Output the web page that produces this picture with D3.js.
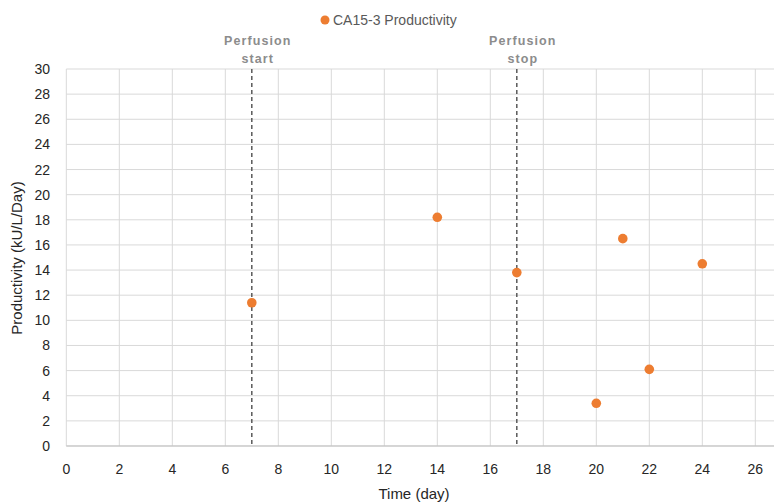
<!DOCTYPE html>
<html>
<head>
<meta charset="utf-8">
<script src="https://cdn.jsdelivr.net/npm/d3@7"></script>
<style>
  body { margin: 0; background: #fff; font-family: "Liberation Sans", Arial, sans-serif; }
</style>
</head>
<body>
<script>
// data
var days = [7, 14, 17, 20, 21, 22, 24];
var productivity = [11.4, 18.2, 13.8, 3.4, 16.5, 6.1, 14.5];
var seriesName = "CA15-3 Productivity";
var xTicks = [0, 2, 4, 6, 8, 10, 12, 14, 16, 18, 20, 22, 24, 26];
var yTicks = [0, 2, 4, 6, 8, 10, 12, 14, 16, 18, 20, 22, 24, 26, 28, 30];
var markerDays = [7, 17];
var markerLabels = [["Perfusion", "start"], ["Perfusion", "stop"]];

var W = 774, H = 502;
var svg = d3.select("body").append("svg")
    .attr("width", W)
    .attr("height", H);

// set the ranges (right edge of plot runs past the picture)
var x = d3.scaleLinear().domain([0, 28]).range([66.3, 808.3]);
var y = d3.scaleLinear().domain([0, 30]).range([446, 69]);

// grid
svg.append("g").selectAll("line")
    .data(yTicks).enter().append("line")
    .attr("x1", x(0)).attr("x2", W)
    .attr("y1", function (d) { return y(d); })
    .attr("y2", function (d) { return y(d); })
    .attr("stroke", "#d9d9d9").attr("stroke-width", 1);

svg.append("g").selectAll("line")
    .data(xTicks).enter().append("line")
    .attr("x1", function (d) { return x(d); })
    .attr("x2", function (d) { return x(d); })
    .attr("y1", y(30)).attr("y2", y(0))
    .attr("stroke", "#d9d9d9").attr("stroke-width", 1);

// x axis line
svg.append("line")
    .attr("x1", x(0)).attr("x2", W)
    .attr("y1", y(0)).attr("y2", y(0))
    .attr("stroke", "#bfbfbf").attr("stroke-width", 1);

// tick labels
svg.append("g").selectAll("text")
    .data(xTicks).enter().append("text")
    .attr("x", function (d) { return x(d); })
    .attr("y", 474)
    .attr("text-anchor", "middle")
    .attr("font-size", "14px")
    .attr("fill", "#262626")
    .text(function (d) { return d; });

svg.append("g").selectAll("text")
    .data(yTicks).enter().append("text")
    .attr("x", 50)
    .attr("y", function (d) { return y(d) + 5; })
    .attr("text-anchor", "end")
    .attr("font-size", "14px")
    .attr("fill", "#262626")
    .text(function (d) { return d; });

// axis titles
svg.append("text")
    .attr("x", 414).attr("y", 499)
    .attr("text-anchor", "middle")
    .attr("font-size", "15px")
    .attr("fill", "#262626")
    .text("Time (day)");

svg.append("text")
    .attr("transform", "translate(22,258) rotate(-90)")
    .attr("text-anchor", "middle")
    .attr("font-size", "15px")
    .attr("fill", "#262626")
    .text("Productivity (kU/L/Day)");

// perfusion markers
svg.append("g").selectAll("line")
    .data(markerDays).enter().append("line")
    .attr("x1", function (d) { return x(d); })
    .attr("x2", function (d) { return x(d); })
    .attr("y1", y(30)).attr("y2", y(0))
    .attr("stroke", "#595959").attr("stroke-width", 1.5)
    .attr("stroke-dasharray", "4,3");

markerDays.forEach(function (d, i) {
    var t = svg.append("text")
        .attr("x", x(d) + 6)
        .attr("text-anchor", "middle")
        .attr("font-size", "12.5px")
        .attr("font-weight", "bold")
        .attr("letter-spacing", "1.1px")
        .attr("fill", "#8c8c8c");
    t.append("tspan").attr("x", x(d) + 6).attr("y", 45).text(markerLabels[i][0]);
    t.append("tspan").attr("x", x(d) + 6).attr("y", 63).text(markerLabels[i][1]);
});

// points
svg.append("g").selectAll("circle")
    .data(days).enter().append("circle")
    .attr("cx", function (d) { return x(d); })
    .attr("cy", function (d, i) { return y(productivity[i]); })
    .attr("r", 4.8)
    .attr("fill", "#ED7D31");

// legend
svg.append("circle")
    .attr("cx", 325).attr("cy", 20).attr("r", 4.5)
    .attr("fill", "#ED7D31");
svg.append("text")
    .attr("x", 333).attr("y", 25)
    .attr("font-size", "14px")
    .attr("fill", "#595959")
    .text(seriesName);
</script>
</body>
</html>
